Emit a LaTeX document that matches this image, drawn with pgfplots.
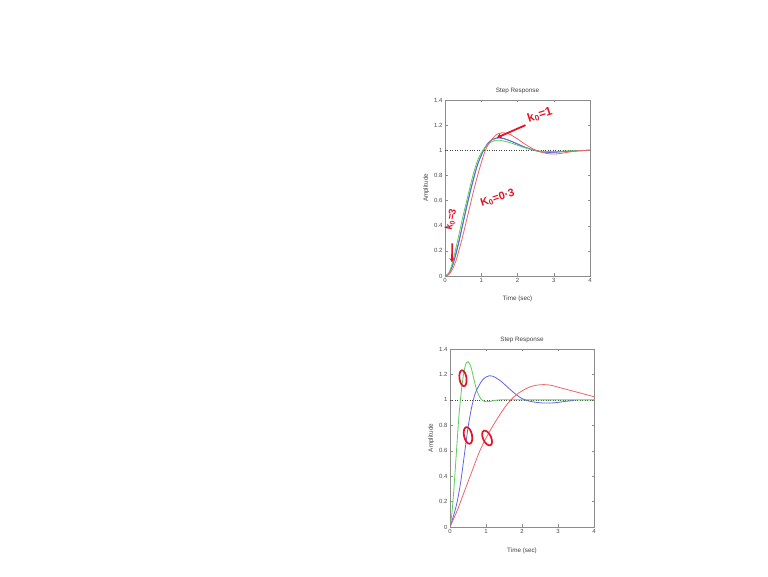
\documentclass[border=0pt]{standalone}
\usepackage{pgfplots}
\pgfplotsset{compat=1.18}
\usepackage{fontspec}
\setmainfont{Liberation Sans}
\usetikzlibrary{shapes.geometric,arrows.meta}
\definecolor{mred}{RGB}{238,100,100}
\definecolor{mgreen}{RGB}{90,205,90}
\definecolor{mblue}{RGB}{100,100,230}
\definecolor{mteal}{RGB}{40,140,160}
\definecolor{ink}{RGB}{228,20,40}
\pgfplotsset{
  mstyle/.style={
    scale only axis,
    xmin=0, xmax=4, ymin=0, ymax=1.4,
    xtick={0,1,2,3,4},
    ytick={0,0.2,0.4,0.6,0.8,1,1.2,1.4},
    yticklabels={0,0.2,0.4,0.6,0.8,1,1.2,1.4},
    tick align=inside,
    major tick length=2.5pt,
    axis line style={black!45, line width=0.4pt},
    tick style={black!45, line width=0.4pt},
    ticklabel style={font=\fontsize{6}{7}\selectfont, text=black!70},
    /pgf/number format/assume math mode=true,
    xticklabel style={yshift=1pt},
    yticklabel style={xshift=1pt},
    title=Step Response,
    xlabel=Time (sec),
    ylabel=Amplitude,
    title style={at={(axis description cs:0.5,1)}, anchor=south, inner sep=0pt, yshift=0pt, font=\fontsize{6.3}{7}\selectfont, text=black!75},
    xlabel style={at={(axis description cs:0.5,-0.132)}, anchor=center, inner sep=0pt, font=\fontsize{6.3}{7}\selectfont, text=black!75},
    ylabel style={at={(axis description cs:-0.13,0.5)}, anchor=center, inner sep=0pt, font=\fontsize{6.3}{7}\selectfont, text=black!75},
    clip mode=individual,
  }
}
\begin{document}
\begin{tikzpicture}
\path[use as bounding box, fill=white] (0pt,0pt) rectangle (768pt,577pt);

% ---------------- top plot ----------------
\begin{axis}[mstyle, at={(445pt,301pt)}, anchor=south west, width=145pt, height=176pt]
\addplot[black!75, dotted, line width=0.45pt] coordinates {(0,1) (4,1)};
\addplot[mteal, line width=0.8pt, smooth] coordinates {
(0,0) (0.1,0.015) (0.2,0.075) (0.3,0.17) (0.4,0.29) (0.5,0.42) (0.6,0.55) (0.7,0.67) (0.8,0.785) (0.9,0.885) (1.0,0.96) (1.1,1.02) (1.2,1.06) (1.3,1.085) (1.4,1.097) (1.5,1.1) (1.6,1.095) (1.8,1.075) (2.0,1.05) (2.2,1.025) (2.4,1.005) (2.6,0.99) (2.8,0.984) (3.0,0.984) (3.4,0.992) (3.8,0.998) (4.0,1.0)};
\addplot[mblue, line width=0.8pt, smooth] coordinates {
(0,0) (0.1,0.02) (0.2,0.08) (0.3,0.18) (0.4,0.3) (0.5,0.43) (0.6,0.56) (0.7,0.68) (0.8,0.79) (0.9,0.89) (1.0,0.96) (1.1,1.02) (1.2,1.06) (1.3,1.085) (1.4,1.095) (1.5,1.1) (1.6,1.095) (1.8,1.075) (2.0,1.05) (2.2,1.025) (2.4,1.005) (2.6,0.99) (2.8,0.985) (3.0,0.985) (3.4,0.992) (4.0,1.0)};
\addplot[mgreen, line width=0.8pt, smooth] coordinates {
(0,0) (0.1,0.02) (0.2,0.1) (0.3,0.22) (0.4,0.35) (0.5,0.48) (0.6,0.6) (0.7,0.72) (0.8,0.83) (0.9,0.92) (1.0,0.98) (1.1,1.02) (1.2,1.05) (1.3,1.07) (1.4,1.08) (1.5,1.08) (1.6,1.075) (1.8,1.06) (2.0,1.04) (2.2,1.02) (2.4,1.005) (2.6,0.995) (2.8,0.99) (3.0,0.99) (3.4,0.995) (4.0,1.0)};
\addplot[mred, line width=0.8pt, smooth] coordinates {
(0,0) (0.1,0.01) (0.2,0.05) (0.3,0.12) (0.4,0.22) (0.5,0.33) (0.6,0.45) (0.7,0.57) (0.8,0.69) (0.9,0.8) (1.0,0.9) (1.1,0.99) (1.2,1.05) (1.3,1.09) (1.4,1.12) (1.5,1.135) (1.6,1.14) (1.7,1.135) (1.8,1.125) (2.0,1.09) (2.2,1.05) (2.4,1.015) (2.6,0.99) (2.8,0.975) (3.0,0.97) (3.2,0.975) (3.4,0.985) (3.6,0.993) (3.8,0.998) (4.0,1.0)};
% handwritten annotations
\node[text=ink, font=\bfseries\fontsize{12}{12}\selectfont, rotate=18] at (axis cs:2.62,1.28) {k\textsubscript{0}=1};
\draw[ink, line width=1.8pt, -{Stealth[length=5pt,width=6pt]}] (axis cs:2.22,1.2) -- (axis cs:1.43,1.1);
\node[text=ink, font=\bfseries\fontsize{11}{11}\selectfont, rotate=18] at (axis cs:1.45,0.62) {K\textsubscript{0}=0·3};
\node[text=ink, font=\bfseries\fontsize{10}{10}\selectfont, rotate=78] at (axis cs:0.17,0.45) {k\textsubscript{0}=3};
\draw[ink, line width=1.6pt, -{Stealth[length=4pt,width=5pt]}] (axis cs:0.2,0.26) -- (axis cs:0.19,0.11);
\end{axis}

% ---------------- bottom plot ----------------
\begin{axis}[mstyle, at={(450pt,50pt)}, anchor=south west, width=144pt, height=178pt]
\addplot[black!75, dotted, line width=0.45pt] coordinates {(0,1) (4,1)};
\addplot[mgreen, line width=0.8pt, smooth] coordinates {
(0,0) (0.05,0.1) (0.1,0.27) (0.15,0.47) (0.2,0.68) (0.25,0.88) (0.3,1.03) (0.35,1.15) (0.4,1.24) (0.45,1.29) (0.5,1.3) (0.55,1.28) (0.6,1.24) (0.65,1.18) (0.7,1.12) (0.75,1.07) (0.8,1.035) (0.85,1.01) (0.9,0.995) (1.0,0.985) (1.1,0.987) (1.2,0.993) (1.4,1.0) (2.0,1.0) (3.0,1.0) (4.0,1.0)};
\addplot[mblue, line width=0.8pt, smooth] coordinates {
(0,0) (0.1,0.09) (0.2,0.2) (0.3,0.36) (0.4,0.57) (0.5,0.78) (0.6,0.94) (0.7,1.05) (0.8,1.11) (0.9,1.155) (1.0,1.18) (1.1,1.19) (1.2,1.185) (1.4,1.15) (1.6,1.1) (1.8,1.05) (2.0,1.01) (2.2,0.99) (2.4,0.98) (2.6,0.975) (2.8,0.975) (3.0,0.98) (3.2,0.988) (3.45,0.995)};
\addplot[mred, line width=0.8pt, smooth] coordinates {
(0,0) (0.2,0.13) (0.4,0.28) (0.6,0.43) (0.8,0.58) (1.0,0.7) (1.2,0.8) (1.4,0.89) (1.6,0.97) (1.8,1.03) (2.0,1.07) (2.2,1.1) (2.4,1.115) (2.6,1.12) (2.8,1.115) (3.0,1.1) (3.2,1.085) (3.4,1.07) (3.6,1.055) (3.8,1.04) (4.0,1.025)};
% handwritten zeros
\node[draw=ink, line width=1.7pt, ellipse, minimum width=7pt, minimum height=16pt, inner sep=0pt, rotate=8] at (axis cs:0.36,1.17) {};
\node[draw=ink, line width=1.7pt, ellipse, minimum width=8pt, minimum height=17pt, inner sep=0pt, rotate=12] at (axis cs:0.5,0.72) {};
\node[draw=ink, line width=1.7pt, ellipse, minimum width=8pt, minimum height=16pt, inner sep=0pt, rotate=25] at (axis cs:1.03,0.70) {};
\end{axis}
\end{tikzpicture}
\end{document}
